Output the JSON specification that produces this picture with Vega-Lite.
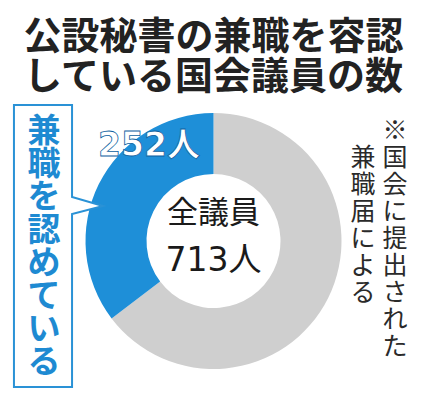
{
  "$schema": "https://vega.github.io/schema/vega-lite/v6.json",
  "width": 427,
  "height": 318,
  "autosize": {"type": "none"},
  "padding": {"top": 82, "left": 0, "right": 0, "bottom": 0},
  "background": "white",
  "title": {
    "text": ["公設秘書の兼職を容認", "している国会議員の数"],
    "font": "Noto Sans CJK JP",
    "fontSize": 38,
    "fontWeight": "bold",
    "lineHeight": 40,
    "color": "#222222",
    "anchor": "middle",
    "frame": "group",
    "offset": -15
  },
  "config": {"view": {"stroke": null}},
  "data": {
    "values": [
      {"group": "その他", "count": 461, "ord": 1},
      {"group": "兼職を認めている", "count": 252, "ord": 2}
    ]
  },
  "layer": [
    {
      "mark": {"type": "arc", "innerRadius": 67, "outerRadius": 128},
      "encoding": {
        "theta": {"field": "count", "type": "quantitative", "stack": true},
        "order": {"field": "ord", "type": "quantitative"},
        "color": {
          "field": "group",
          "type": "nominal",
          "scale": {"domain": ["兼職を認めている", "その他"], "range": ["#1e8fd8", "#cfcfcf"]},
          "legend": null
        }
      }
    },
    {
      "transform": [
        {"filter": "datum.group === '兼職を認めている'"},
        {"calculate": "datum.count + '人'", "as": "label"}
      ],
      "mark": {
        "type": "text",
        "x": 149,
        "y": 64,
        "align": "center",
        "baseline": "middle",
        "font": "DejaVu Sans, Noto Sans CJK JP",
        "fontSize": 33,
        "fontWeight": "bold",
        "fill": "#ffffff",
        "stroke": "#0d5f9f",
        "strokeWidth": 0.8
      },
      "encoding": {"text": {"field": "label", "type": "nominal"}}
    },
    {
      "data": {"values": [{"label": "全議員"}]},
      "mark": {
        "type": "text",
        "x": 213.5,
        "y": 132,
        "align": "center",
        "baseline": "middle",
        "font": "Noto Sans CJK JP",
        "fontSize": 31,
        "color": "#1a1a1a"
      },
      "encoding": {"text": {"field": "label", "type": "nominal"}}
    },
    {
      "transform": [
        {"aggregate": [{"op": "sum", "field": "count", "as": "total"}]},
        {"calculate": "datum.total + '人'", "as": "label"}
      ],
      "mark": {
        "type": "text",
        "x": 213.5,
        "y": 179,
        "align": "center",
        "baseline": "middle",
        "font": "DejaVu Sans, Noto Sans CJK JP",
        "fontSize": 33,
        "color": "#1a1a1a"
      },
      "encoding": {"text": {"field": "label", "type": "nominal"}}
    },
    {
      "data": {"values": [{"note": "callout"}]},
      "mark": {
        "type": "point",
        "x": 43,
        "y": 164,
        "size": 79524,
        "filled": true,
        "opacity": 1,
        "fill": "#ffffff",
        "stroke": "#2a92d6",
        "strokeWidth": 2,
        "shape": "M -0.206 -1 L 0.206 -1 L 0.206 -0.348 L 0.426 -0.284 L 0.206 -0.227 L 0.206 1 L -0.206 1 Z"
      }
    },
    {
      "data": {"values": [{"note": "callout"}]},
      "mark": {
        "type": "text",
        "x": 44,
        "y": 34,
        "align": "center",
        "baseline": "top",
        "font": "Noto Sans CJK JP",
        "fontSize": 33,
        "fontWeight": "bold",
        "lineHeight": 33,
        "color": "#1e8ad2",
        "text": ["兼", "職", "を", "認", "め", "て", "い", "る"]
      }
    },
    {
      "data": {"values": [{"note": "source"}]},
      "mark": {
        "type": "text",
        "x": 395,
        "y": 37,
        "align": "center",
        "baseline": "top",
        "font": "Noto Sans CJK JP",
        "fontSize": 25,
        "lineHeight": 27,
        "color": "#2a2a2a",
        "text": ["※", "国", "会", "に", "提", "出", "さ", "れ", "た"]
      }
    },
    {
      "data": {"values": [{"note": "source"}]},
      "mark": {
        "type": "text",
        "x": 363,
        "y": 64,
        "align": "center",
        "baseline": "top",
        "font": "Noto Sans CJK JP",
        "fontSize": 25,
        "lineHeight": 27,
        "color": "#2a2a2a",
        "text": ["兼", "職", "届", "に", "よ", "る"]
      }
    }
  ]
}
